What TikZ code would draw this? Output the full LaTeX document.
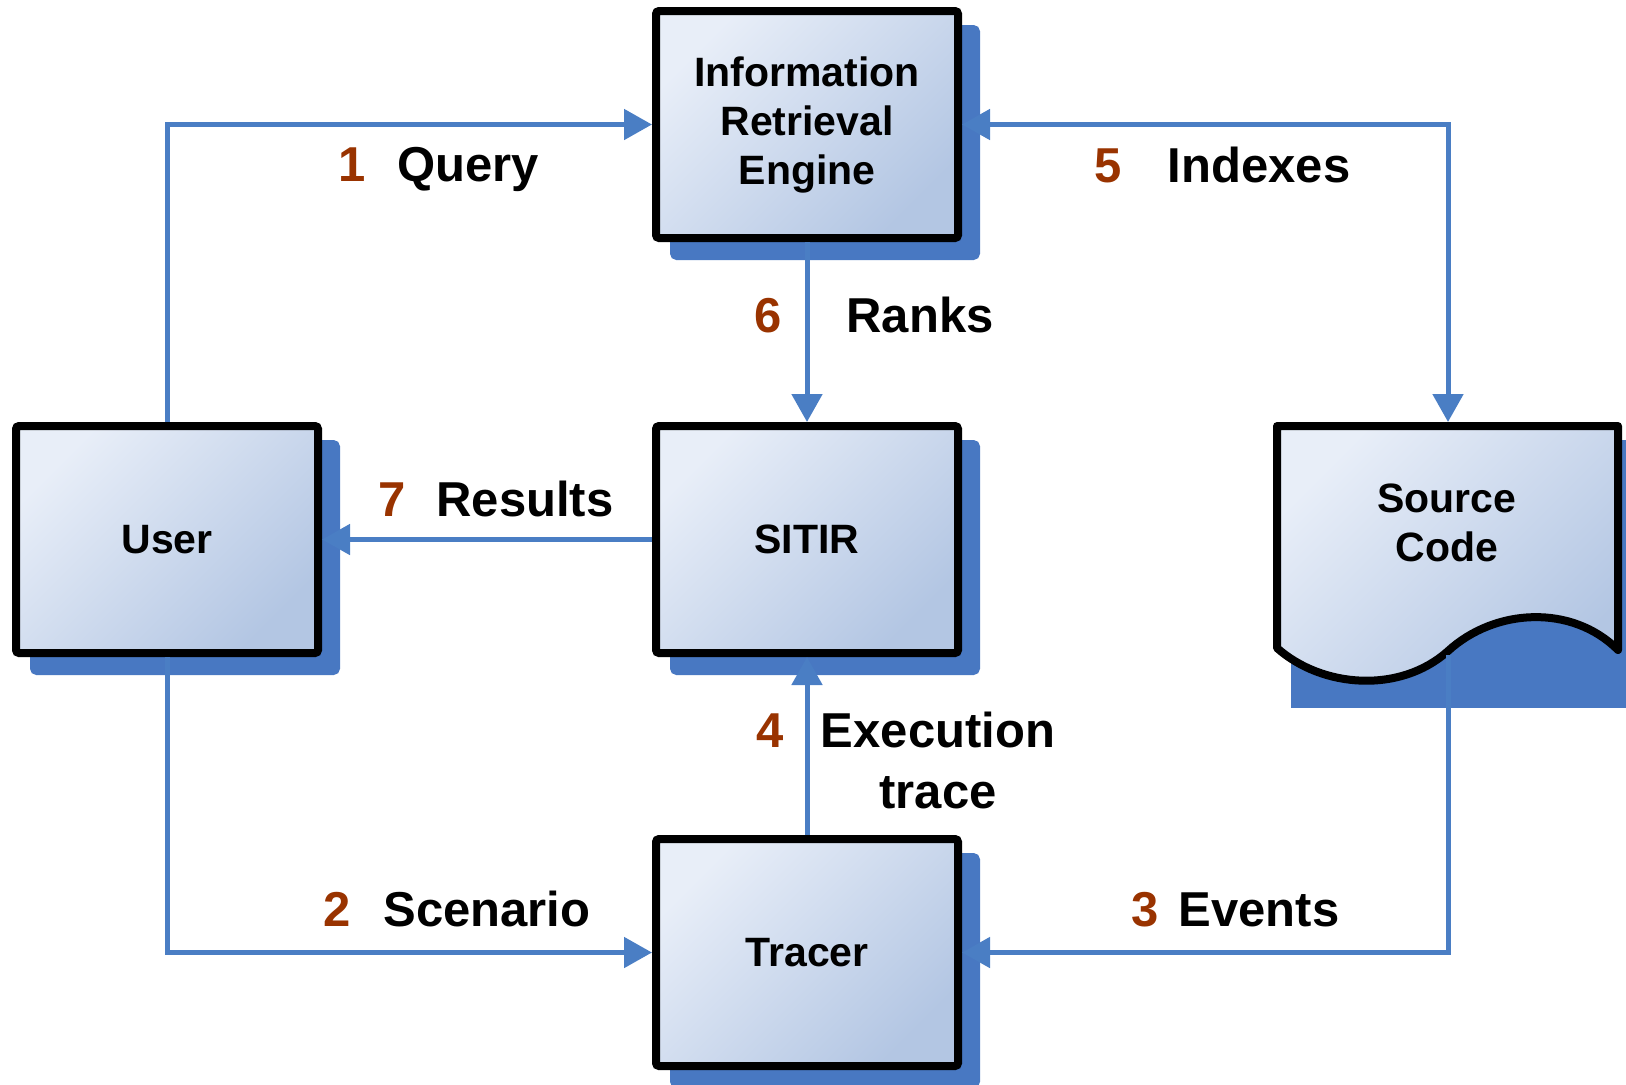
\documentclass[tikz,border=0pt]{standalone}
\usepackage{fontspec}
\setmainfont{Liberation Sans}
\usetikzlibrary{arrows.meta,shadows,positioning}
\definecolor{wire}{HTML}{4A7EC4}
\definecolor{shadowblue}{HTML}{4878C2}
\definecolor{boxhi}{HTML}{E8EEF8}
\definecolor{boxlo}{HTML}{B3C6E3}
\definecolor{numred}{HTML}{993300}
\newcommand{\boxfont}{\fontsize{20.5}{24.5}\selectfont\bfseries}
\newcommand{\labfont}{\fontsize{24.5}{30.5}\selectfont\bfseries}
\tikzset{
	px/.style={x=.5pt,y=-.5pt},
	block/.style={draw=black,line width=4pt,rounded corners=1.5pt,
		minimum width=151pt,minimum height=113.5pt,inner sep=0pt,
		top color=boxhi,bottom color=boxlo,shading angle=45,
		general shadow={shadow xshift=9pt,shadow yshift=-9pt,
			fill=shadowblue,draw=shadowblue,line width=4pt},
		font=\boxfont,align=center},
	docshape/.style={draw=black,line width=4pt,line join=round,
		top color=boxhi,bottom color=boxlo,shading angle=45},
	conn/.style={draw=wire,line width=2.5pt,-{Triangle[length=14pt,width=15pt]}},
	biconn/.style={conn,{Triangle[length=14pt,width=15pt]}-{Triangle[length=14pt,width=15pt]}},
	num/.style={anchor=base,text=numred,font=\labfont,inner sep=0pt},
	lab/.style={anchor=base,font=\labfont,inner sep=0pt,align=center}
}
\begin{document}
\begin{tikzpicture}[px]
	\useasboundingbox (0,0) rectangle (1626,1084);
	% boxes
	\node[block] (ire) at (807,124.5) {Information\\Retrieval\\Engine};
	\node[block] (user) at (167,539.5) {User};
	\node[block] (sitir) at (807,539.5) {SITIR};
	\node[block] (tracer) at (807,952.5) {Tracer};
	% source code document
	\fill[shadowblue] (1291,440) rectangle (1645,708);
	\draw[docshape] (1277,648) -- (1277,426) -- (1618,426) -- (1618,650)
		.. controls (1572,604) and (1495,608) .. (1448,651)
		.. controls (1400,694) and (1322,688) .. (1277,648) -- cycle;
	\node[font=\boxfont,align=center] (source) at (1447,523) {Source\\Code};
	\coordinate (srcin) at (1448,422);
	\coordinate (srcout) at (1448,655);
	% connectors
	\draw[conn] (user.north) |- (ire.west);
	\draw[conn] (user.south) |- (tracer.west);
	\draw[conn] (srcout) |- (tracer.east);
	\draw[conn] (tracer.north) -- (sitir.south);
	\draw[biconn] (ire.east) -| (srcin);
	\draw[conn] (ire.south) -- (sitir.north);
	\draw[conn] (sitir.west) -- (user.east);
	% labels
	\node[num] (n1) at (352,181) {1};
	\node[lab] (query) at (468,181) {Query};
	\node[num] (n2) at (337,926) {2};
	\node[lab] (scenario) at (487,926) {Scenario};
	\node[num] (n3) at (1145,926) {3};
	\node[lab] (events) at (1259,926) {Events};
	\node[num] (n4) at (770,747) {4};
	\node[lab] (exectrace) at (938,808) {Execution\\trace}; % base is last line
	\node[num] (n5) at (1108,182) {5};
	\node[lab] (indexes) at (1259,182) {Indexes};
	\node[num] (n6) at (768,332) {6};
	\node[lab] (ranks) at (920,332) {Ranks};
	\node[num] (n7) at (392,516) {7};
	\node[lab] (results) at (525,516) {Results};
\end{tikzpicture}
\end{document}
